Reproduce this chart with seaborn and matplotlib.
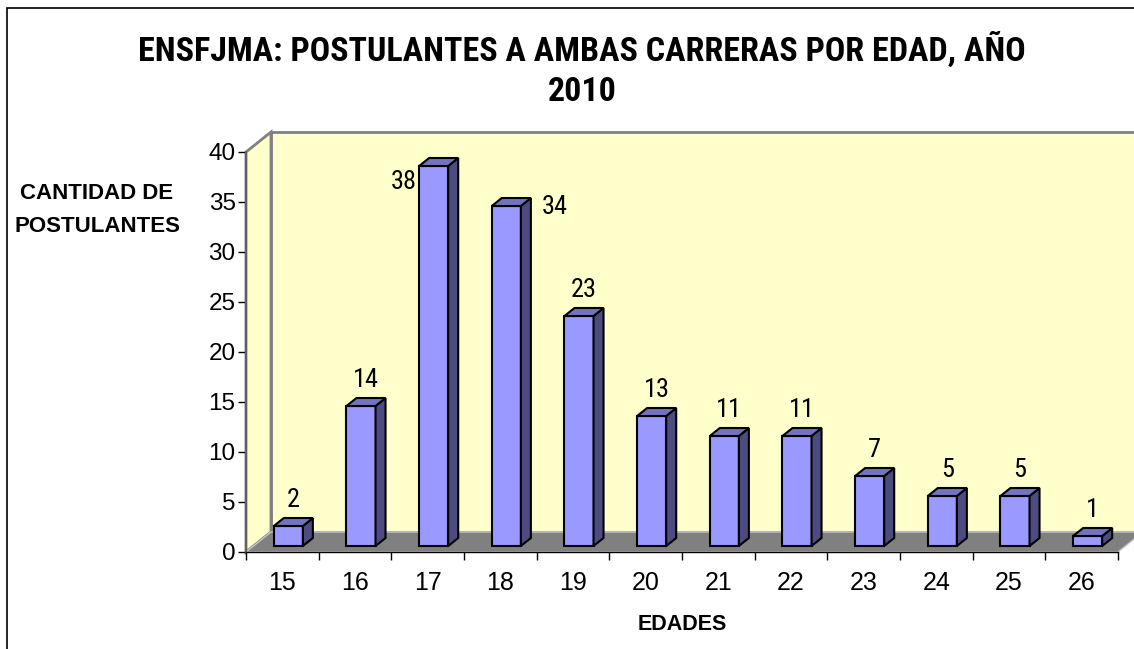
import numpy as np
import matplotlib
matplotlib.use("Agg")
import matplotlib.pyplot as plt
from matplotlib.patches import Polygon, Rectangle
from matplotlib import font_manager
import seaborn as sns

ages = ["15", "16", "17", "18", "19", "20", "21", "22", "23", "24", "25", "26"]
counts = [2, 14, 38, 34, 23, 13, 11, 11, 7, 5, 5, 1]
yticks = [0, 5, 10, 15, 20, 25, 30, 35, 40]

title = "ENSFJMA: POSTULANTES A AMBAS CARRERAS POR EDAD, AÑO\n2010"
ylabel = "CANTIDAD DE\nPOSTULANTES"
xlabel = "EDADES"

W, H = 1134, 649
FRONT, SIDE, TOP = "#9999FF", "#4C4C80", "#7373C0"
WALL, FLOOR, EDGE = "#FFFFCC", "#808080", "#808080"

sns.set_theme(style="ticks")
names = {f.name for f in font_manager.fontManager.ttflist}
narrow = next((n for n in ["Liberation Sans Narrow", "Arial Narrow", "Roboto Condensed"]
               if n in names), None)
plt.rcParams["font.family"] = ["Liberation Sans", "DejaVu Sans"]
plt.rcParams["text.color"] = "black"
plt.rcParams["axes.labelcolor"] = "black"
narrow_fam = [narrow or "Liberation Sans", "DejaVu Sans"]
title_size = 24.5 if narrow else 20
label_size = 19 if narrow else 17

fig = plt.figure(figsize=(W / 100, H / 100), dpi=100)
fig.patch.set_facecolor("white")
# front face of the 3D box, in pixels: x 246..1118, y 152..552
ax = fig.add_axes([246 / W, 1 - 552 / H, 872 / W, 400 / H])

ppx, ppy = 872 / 12, 400 / 40


def off(px, py):
    """pixel offset -> data offset"""
    return px / ppx, py / ppy


sns.barplot(x=ages, y=counts, color=FRONT, saturation=1, width=0.4,
            edgecolor="black", linewidth=1.5, ax=ax, zorder=3)
bars = list(ax.patches)

x0, x1, y0, y1 = -0.5, 11.5, 0, 40
ax.set_xlim(x0, x1)
ax.set_ylim(y0, y1)
ax.patch.set_visible(False)

# walls and floor
bx, by = off(25, 20)
ax.add_patch(Rectangle((x0 + bx, y0 + by), x1 - x0, y1 - y0, facecolor=WALL,
                       edgecolor=EDGE, lw=2, clip_on=False, zorder=0))
ax.add_patch(Polygon([(x0, y0), (x0, y1), (x0 + bx, y1 + by), (x0 + bx, y0 + by)],
                     facecolor=WALL, edgecolor=EDGE, lw=2, clip_on=False, zorder=0.5))
ax.add_patch(Polygon([(x0, y0), (x1, y0), (x1 + bx, y0 + by), (x0 + bx, y0 + by)],
                     facecolor=FLOOR, edgecolor="#C8C8C8", lw=1, clip_on=False, zorder=1))

# 3D bars: shift fronts back a bit, add side and top faces
fx, fy = off(6, 6)
dx, dy = off(10, 8)
label_side = {"17": "left", "18": "right"}
for p, age, v in zip(bars, ages, counts):
    p.set_x(p.get_x() + fx)
    p.set_y(p.get_y() + fy)
    p.set_clip_on(False)
    xl, w = p.get_x(), p.get_width()
    xr = xl + w
    yb, yt = p.get_y(), p.get_y() + p.get_height()
    ax.add_patch(Polygon([(xr, yb), (xr + dx, yb + dy), (xr + dx, yt + dy), (xr, yt)],
                         facecolor=SIDE, edgecolor="black", lw=1.5, clip_on=False, zorder=3))
    ax.add_patch(Polygon([(xl, yt), (xr, yt), (xr + dx, yt + dy), (xl + dx, yt + dy)],
                         facecolor=TOP, edgecolor="black", lw=1.5, clip_on=False, zorder=3))
    side = label_side.get(age, "top")
    if side == "left":
        xy, xyt, ha = (xl, yt), (-2, -23), "right"
    elif side == "right":
        xy, xyt, ha = (xr, yt), (21, -8), "left"
    else:
        xy, xyt, ha = (xl + w / 2, yt), (5, 19), "center"
    ax.annotate(str(v), xy, xytext=xyt, textcoords="offset pixels", ha=ha,
                va="baseline", fontsize=label_size, family=narrow_fam,
                color="black", zorder=4, annotation_clip=False)

# axes
ax.set_yticks(yticks)
ax.set_xticks(range(len(ages)))
ax.set_xticklabels(ages)
ax.set_xticks(np.arange(-0.5, len(ages), 1), minor=True)
ax.tick_params(axis="y", left=True, length=6, width=1, color="black",
               labelsize=17.5, pad=1.5, labelcolor="black")
ax.tick_params(axis="x", which="major", bottom=True, length=0, pad=14,
               labelsize=18, labelcolor="black")
ax.tick_params(axis="x", which="minor", bottom=True, length=6, width=1, color="black")
for s in ["top", "right"]:
    ax.spines[s].set_visible(False)
ax.spines["left"].set_color("#606060")
ax.spines["left"].set_linewidth(1.5)
ax.spines["bottom"].set_color("black")
ax.spines["bottom"].set_linewidth(1)

ax.set_xlabel(xlabel, fontsize=15.5, fontweight="bold")
ax.xaxis.set_label_coords(0.5, -0.18)
ax.xaxis.label.set_va("center")
ax.set_ylabel(ylabel, fontsize=16, fontweight="bold", rotation=0,
              ha="center", va="center", linespacing=1.75)
ax.yaxis.set_label_coords((97 - 246) / 872, (552 - 210) / 400)

fig.suptitle(title, x=582 / W, y=1 - 70 / H, va="center", fontsize=title_size,
             fontweight="bold", family=narrow_fam, color="black", linespacing=1.35)

# chart frame (only left and top edges fall inside the picture)
fig.patches.append(Rectangle((7 / W, -0.1), 1.2, 1 - 8 / H + 0.1, transform=fig.transFigure,
                             fill=False, edgecolor="black", lw=1.2))

fig.savefig("out.png", dpi=100)
